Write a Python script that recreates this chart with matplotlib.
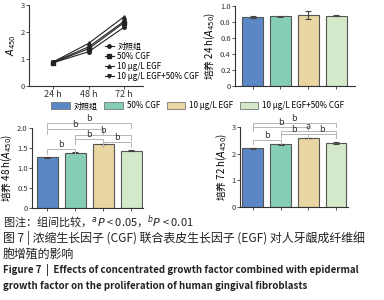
import numpy as np
import matplotlib
matplotlib.use('Agg')
import matplotlib.pyplot as plt

plt.rcParams['font.family'] = ['Noto Sans CJK SC', 'DejaVu Sans']
plt.rcParams['axes.linewidth'] = 0.8

# ================= data =================
groups = ['对照组', '50% CGF', '10 μg/L EGF', '10 μg/L EGF+50% CGF']
time_labels = ['24 h', '48 h', '72 h']
colors = ['#5b87c6', '#86cdb7', '#e9d6a2', '#d3e9ca']

# growth curve (A450) per group at 24/48/72 h
curve = {
    '对照组': [0.86, 1.27, 2.18],
    '50% CGF': [0.87, 1.38, 2.35],
    '10 μg/L EGF': [0.89, 1.58, 2.57],
    '10 μg/L EGF+50% CGF': [0.88, 1.45, 2.40],
}
markers = ['o', 's', '^', 'v']

a24 = [0.86, 0.87, 0.89, 0.88]
e24 = [0.01, 0.005, 0.05, 0.01]
a48 = [1.27, 1.38, 1.60, 1.43]
e48 = [0.01, 0.01, 0.01, 0.01]
a72 = [2.20, 2.35, 2.58, 2.40]
e72 = [0.01, 0.01, 0.01, 0.02]

# significance brackets: (i, j, height, label)
sig48 = [(0, 3, 2.13, 'b'), (0, 2, 1.98, 'b'), (1, 3, 1.83, 'b'),
         (1, 2, 1.72, 'b'), (2, 3, 1.65, 'b'), (0, 1, 1.47, 'b')]
sig72 = [(0, 3, 3.15, 'b'), (0, 2, 3.0, 'b'), (1, 3, 2.85, 'a'),
         (1, 2, 2.75, 'b'), (2, 3, 2.75, 'b'), (0, 1, 2.5, 'b')]

W, H = 384, 300
fig = plt.figure(figsize=(W / 100, H / 100), dpi=100)


def px_axes(x0, y_top, x1, y_bot):
    return fig.add_axes([x0 / W, 1 - y_bot / H, (x1 - x0) / W, (y_bot - y_top) / H])


def style(ax):
    for s in ['top', 'right']:
        ax.spines[s].set_visible(False)
    ax.spines['left'].set_color('#333333')
    ax.spines['bottom'].set_color('#333333')
    ax.tick_params(length=2, width=0.6, labelsize=5.5, pad=1, colors='#333333')


# ---------------- growth curve ----------------
ax1 = px_axes(29, 5, 143, 86)
xs = np.arange(len(time_labels))
for (name, vals), m in zip(curve.items(), markers):
    ax1.plot(xs, vals, color='#222222', lw=0.8, marker=m, ms=2.5, label=name)
ax1.set_xlim(-0.68, 2.53)
ax1.set_ylim(0, 3)
ax1.set_yticks([0, 1, 2, 3])
ax1.set_xticks(xs, time_labels)
style(ax1)
ax1.tick_params(axis='x', labelsize=6.5)
ax1.set_ylabel('$A_{450}$', fontsize=7, labelpad=2)
leg = ax1.legend(loc='lower left', bbox_to_anchor=(0.62, 0.0), fontsize=5.8, frameon=False,
                 handlelength=1.2, handletextpad=0.4, labelspacing=0.15, borderaxespad=0.2)


def bar_panel(ax, vals, errs, ylim, yticks, yticklabels, ylabel, xlim):
    x = np.arange(len(vals))
    ax.bar(x, vals, width=0.75, color=colors, edgecolor='#555555', linewidth=0.8,
           yerr=errs, error_kw=dict(ecolor='#444444', elinewidth=0.8, capsize=2, capthick=0.8))
    ax.set_xlim(*xlim)
    ax.set_ylim(*ylim)
    ax.set_yticks(yticks, yticklabels)
    ax.set_xticks(x, ['' for _ in x])
    style(ax)
    ax.set_ylabel(ylabel, fontsize=7, labelpad=2)
    return x


def brackets(ax, sigs, drop):
    for i, j, h, lab in sigs:
        ax.plot([i, i, j, j], [h - drop, h, h, h - drop], color='#b5b5b5', lw=0.7, clip_on=False)
        ax.text((i + j) / 2, h, lab, ha='center', va='bottom', fontsize=6.5, color='#333333',
                clip_on=False)


# ---------------- 24 h ----------------
ax2 = px_axes(235, 6, 355, 86)
bar_panel(ax2, a24, e24, (0, 1.0), [0, 0.2, 0.4, 0.6, 0.8, 1.0],
          ['0', '0.2', '0.4', '0.6', '0.8', '1.0'], '培养 24 h($A_{450}$)', (-0.63, 3.68))

# ---------------- 48 h ----------------
ax3 = px_axes(32, 128, 143, 208)
bar_panel(ax3, a48, e48, (0, 2.0), [0, 0.5, 1.0, 1.5, 2.0],
          ['0', '0.5', '1.0', '1.5', '2.0'], '培养 48 h($A_{450}$)', (-0.54, 3.41))
brackets(ax3, sig48, 0.12)

# ---------------- 72 h ----------------
ax4 = px_axes(240, 127, 348, 207)
bar_panel(ax4, a72, e72, (0, 3), [0, 1, 2, 3], ['0', '1', '2', '3'],
          '培养 72 h($A_{450}$)', (-0.46, 3.43))
brackets(ax4, sig72, 0.15)

# ---------------- shared legend ----------------
handles = [plt.Rectangle((0, 0), 1, 1, facecolor=c, edgecolor='#777777', lw=0.6) for c in colors]
fig.legend(handles, groups, loc='center', bbox_to_anchor=(0.515, 1 - 106 / H), ncol=4,
           fontsize=5.8, frameon=False, handlelength=2.3, handleheight=1.0,
           handletextpad=0.5, columnspacing=0.8)

# ---------------- caption ----------------
fig.text(3 / W, 1 - 222 / H, '图注：组间比较，$^{a}$$P$ < 0.05，$^{b}$$P$ < 0.01',
         fontsize=8, va='center', color='#222222')
fig.text(3 / W, 1 - 238 / H, '图 7 | 浓缩生长因子 (CGF) 联合表皮生长因子 (EGF) 对人牙龈成纤维细',
         fontsize=8.6, va='center', color='#222222')
fig.text(3 / W, 1 - 254 / H, '胞增殖的影响', fontsize=8.6, va='center', color='#222222')
fig.text(3 / W, 1 - 270 / H, 'Figure 7  |  Effects of concentrated growth factor combined with epidermal',
         fontsize=7, va='center', fontweight='bold', color='#222222')
fig.text(3 / W, 1 - 286 / H, 'growth factor on the proliferation of human gingival fibroblasts',
         fontsize=7, va='center', fontweight='bold', color='#222222')

fig.savefig('out.png', dpi=100)
